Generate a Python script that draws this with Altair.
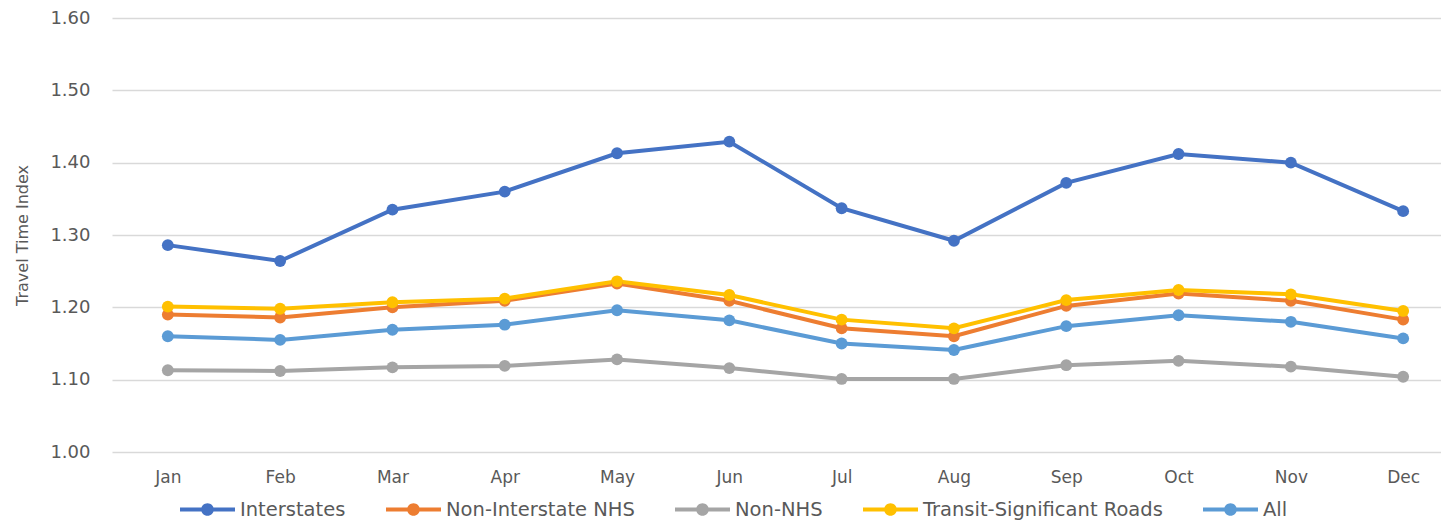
import altair as alt
import pandas as pd

months = ["Jan", "Feb", "Mar", "Apr", "May", "Jun", "Jul", "Aug", "Sep", "Oct", "Nov", "Dec"]
series_names = ["Interstates", "Non-Interstate NHS", "Non-NHS", "Transit-Significant Roads", "All"]
colors = ["#4472C4", "#ED7D31", "#A5A5A5", "#FFC000", "#5B9BD5"]

interstates = [1.286, 1.264, 1.335, 1.360, 1.413, 1.429, 1.337, 1.292, 1.372, 1.412, 1.400, 1.333]
non_interstate_nhs = [1.190, 1.186, 1.200, 1.209, 1.233, 1.209, 1.171, 1.160, 1.202, 1.219, 1.209, 1.183]
non_nhs = [1.113, 1.112, 1.117, 1.119, 1.128, 1.116, 1.101, 1.101, 1.120, 1.126, 1.118, 1.104]
transit = [1.201, 1.198, 1.207, 1.212, 1.236, 1.217, 1.183, 1.171, 1.210, 1.224, 1.218, 1.195]
all_roads = [1.160, 1.155, 1.169, 1.176, 1.196, 1.182, 1.150, 1.141, 1.174, 1.189, 1.180, 1.157]

values = [interstates, non_interstate_nhs, non_nhs, transit, all_roads]
rows = []
for name, vals in zip(series_names, values):
    for m, v in zip(months, vals):
        rows.append({"Month": m, "Series": name, "TTI": v})
df = pd.DataFrame(rows)

FONT = "DejaVu Sans"
TEXT = "#595959"
legend_path = ("M-1,-0.075H1V0.075H-1Z "
               "M-0.23,0A0.23,0.23,0,1,1,0.23,0A0.23,0.23,0,1,1,-0.23,0Z")

x = alt.X("Month:N", sort=months, title=None,
          scale=alt.Scale(padding=0.417, align=0.596),
          axis=alt.Axis(labelAngle=0, domain=False, ticks=False, grid=False,
                        labelPadding=17, labelFontSize=17, labelColor=TEXT,
                        labelFont=FONT))
y = alt.Y("TTI:Q", title="Travel Time Index",
          scale=alt.Scale(domain=[1.0, 1.6], nice=False, zero=False),
          axis=alt.Axis(values=[1.0, 1.1, 1.2, 1.3, 1.4, 1.5, 1.6], format=".2f",
                        domain=False, ticks=False, grid=True, gridColor="#D9D9D9",
                        gridWidth=1.3, labelPadding=22, labelFontSize=18,
                        labelColor=TEXT, labelFont=FONT,
                        titleFont=FONT, titleFontSize=16, titleFontWeight="normal",
                        titleColor=TEXT, titlePadding=19))
color_scale = alt.Scale(domain=series_names, range=colors)
legend = alt.Legend(orient="none", legendX=68, legendY=464, direction="horizontal",
                    symbolType=legend_path, symbolSize=3025,
                    symbolStrokeWidth=0, symbolOpacity=1,
                    labelFont=FONT, labelFontSize=19.5, labelColor=TEXT,
                    labelLimit=500, labelOffset=5, columnPadding=40, padding=0)

lines = alt.Chart(df).mark_line(strokeWidth=4).encode(
    x=x, y=y,
    color=alt.Color("Series:N", scale=color_scale, title=None, legend=legend),
)
points = alt.Chart(df).mark_point(filled=True, size=140, opacity=1).encode(
    x=x, y=y,
    color=alt.Color("Series:N", scale=color_scale, title=None, legend=legend),
)

chart = alt.layer(lines, points).properties(
    width=1329, height=434,
    background="white",
    autosize=alt.AutoSizeParams(type="none"),
    padding={"left": 104, "top": 10, "right": 0, "bottom": 68},
).configure_view(stroke="transparent", strokeWidth=0).configure_axis(
    domain=False
)

chart.save("out.html", embed_options={"renderer": "svg", "actions": False})
